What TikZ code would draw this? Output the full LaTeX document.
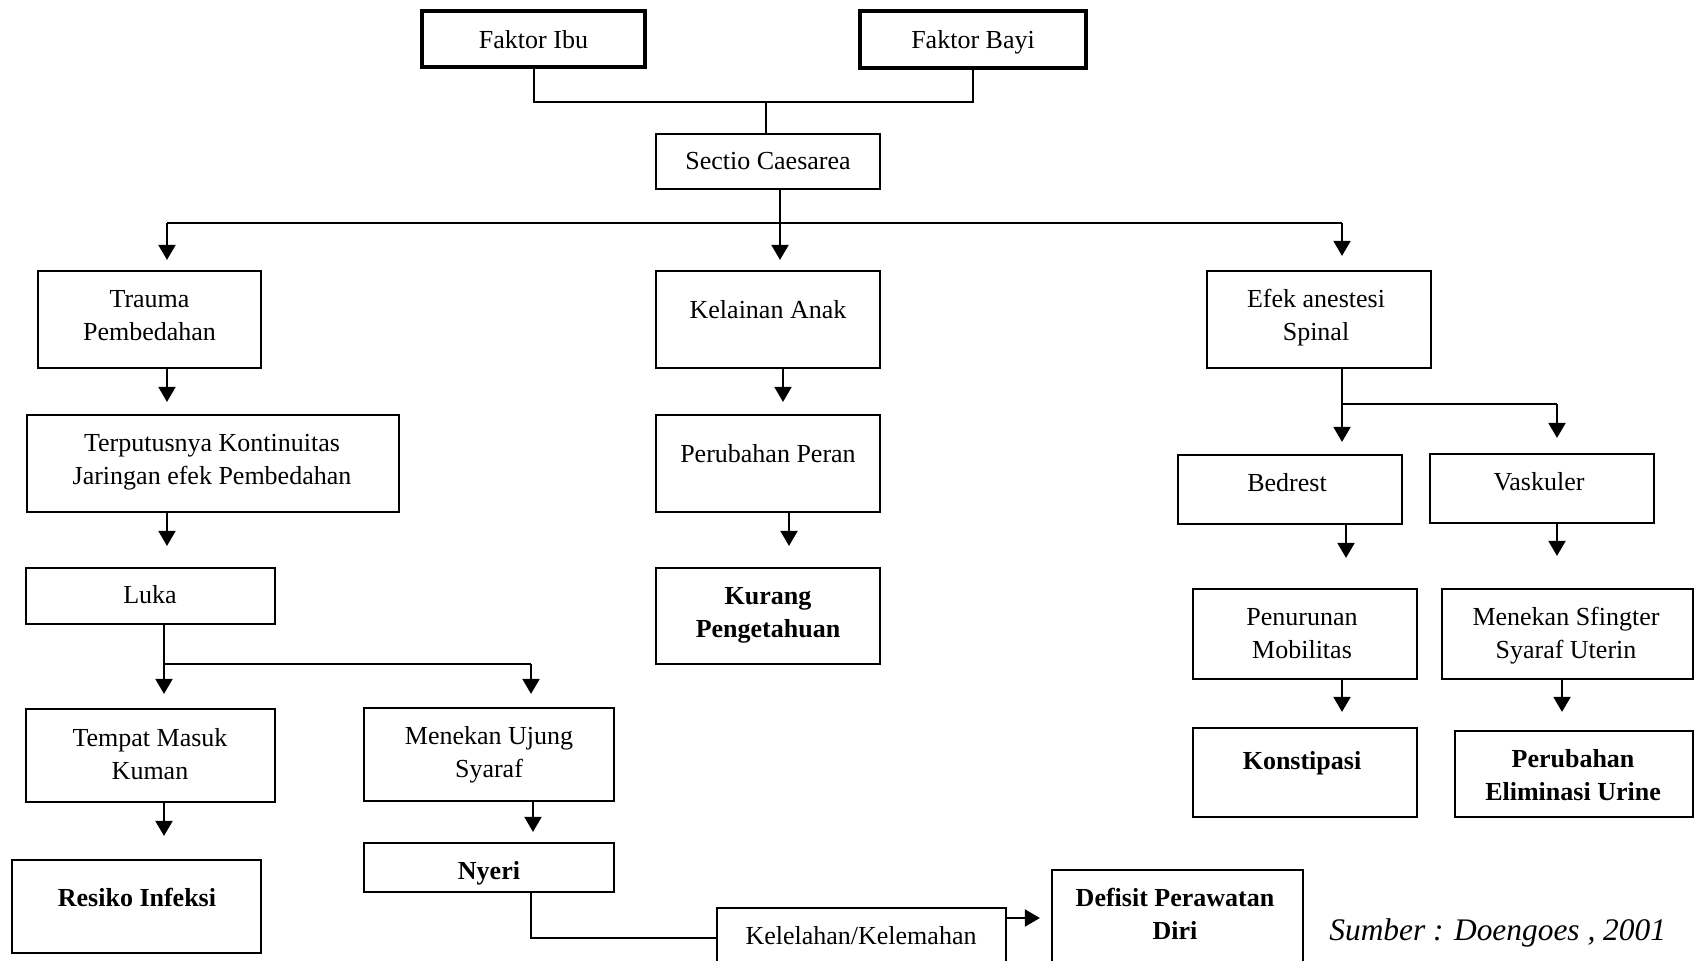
\documentclass[tikz,border=0pt]{standalone}
\usepackage{fontspec}
\setmainfont{Liberation Serif}
\usetikzlibrary{arrows.meta}
\begin{document}
\begin{tikzpicture}[x=0.5pt,y=-0.5pt,
  box/.style={draw, line width=1.1pt, inner sep=0pt},
  thickbox/.style={draw, line width=2pt, inner sep=0pt},
  txt/.style={align=center, inner sep=0pt, font=\fontsize{13}{16.5}\selectfont},
  btxt/.style={align=center, inner sep=0pt, font=\fontsize{13}{16.5}\selectfont\bfseries},
  ln/.style={line width=1pt},
  arr/.style={line width=1pt, -{Triangle[length=7.5pt,width=8.5pt]}}]
\useasboundingbox (0,0) rectangle (1695,960);
\clip (0,0) rectangle (1695,960);
% boxes
\node[thickbox, minimum width=111.5pt, minimum height=28pt] (ibu) at (533.5,39) {};
\node[thickbox, minimum width=113pt, minimum height=28.5pt] (bayi) at (973,39) {};
\node[box, minimum width=112pt, minimum height=27.5pt] (sec) at (768,161.5) {};
\node[box, minimum width=111.5pt, minimum height=48.5pt] (tra) at (149.5,319.5) {};
\node[box, minimum width=112pt, minimum height=48.5pt] (kel) at (768,319.5) {};
\node[box, minimum width=112pt, minimum height=48.5pt] (efe) at (1319,319.5) {};
\node[box, minimum width=186pt, minimum height=48.5pt] (ter) at (213,463.5) {};
\node[box, minimum width=112pt, minimum height=48.5pt] (per) at (768,463.5) {};
\node[box, minimum width=112pt, minimum height=34.5pt] (bed) at (1290,489.5) {};
\node[box, minimum width=112pt, minimum height=34.5pt] (vas) at (1542,488.5) {};
\node[box, minimum width=124.5pt, minimum height=28pt] (luk) at (150.5,596) {};
\node[box, minimum width=112pt, minimum height=48pt] (kur) at (768,616) {};
\node[box, minimum width=112pt, minimum height=45pt] (pen) at (1305,634) {};
\node[box, minimum width=125.5pt, minimum height=45pt] (sfi) at (1567.5,634) {};
\node[box, minimum width=124.5pt, minimum height=46.5pt] (tem) at (150.5,755.5) {};
\node[box, minimum width=125pt, minimum height=46.5pt] (uju) at (489,754.5) {};
\node[box, minimum width=112pt, minimum height=44.5pt] (kon) at (1305,772.5) {};
\node[box, minimum width=119pt, minimum height=43pt] (eli) at (1574,774) {};
\node[box, minimum width=124.5pt, minimum height=46.5pt] (res) at (136.5,906.5) {};
\node[box, minimum width=125pt, minimum height=24.5pt] (nye) at (489,867.5) {};
\node[box, minimum width=125.5pt, minimum height=60pt] (def) at (1177.5,930) {};
\node[box, minimum width=144.5pt, minimum height=41pt] (kll) at (861.5,949) {};
% texts
\node[txt] (tibu) at (533.5,40) {Faktor Ibu};
\node[txt] (tbayi) at (973,42) {Faktor Bayi};
\node[txt] (tsec) at (768,161) {Sectio Caesarea};
\node[txt] (ttra) at (149.5,316) {Trauma\\Pembedahan};
\node[txt] (tkel) at (768,310) {Kelainan Anak};
\node[txt] (tefe) at (1316,318) {Efek anestesi\\Spinal};
\node[txt] (tter) at (212,462) {Terputusnya Kontinuitas\\Jaringan efek Pembedahan};
\node[txt] (tper) at (768,454) {Perubahan Peran};
\node[txt] (tbed) at (1287,483) {Bedrest};
\node[txt] (tvas) at (1539,482) {Vaskuler};
\node[txt] (tluk) at (150,595) {Luka};
\node[btxt] (tkur) at (768,615) {Kurang\\Pengetahuan};
\node[txt] (tpen) at (1302,634) {Penurunan\\Mobilitas};
\node[txt] (tsfi) at (1566,636) {Menekan Sfingter\\Syaraf Uterin};
\node[txt] (ttem) at (150,754) {Tempat Masuk\\Kuman};
\node[txt] (tuju) at (489,755) {Menekan Ujung\\Syaraf};
\node[btxt] (tkon) at (1302,763) {Konstipasi};
\node[btxt] (teli) at (1573,775) {Perubahan\\Eliminasi Urine};
\node[btxt] (tres) at (137,897) {Resiko Infeksi};
\node[btxt] (tnye) at (489,873) {Nyeri};
\node[btxt] (tdef) at (1175,914) {Defisit Perawatan\\Diri};
\node[txt] (tkll) at (861,936) {Kelelahan/Kelemahan};
\node[inner sep=0pt, anchor=base west, font=\fontsize{15.7}{19}\selectfont\itshape] (src) at (1329,940) {Sumber : Doengoes , 2001};
% helper coordinates
\coordinate (j1) at (766,102);
\coordinate (j2) at (780,223);
\coordinate (jL) at (167,223);
\coordinate (jR) at (1342,223);
\coordinate (j3) at (1342,404);
\coordinate (j4) at (1557,404);
\coordinate (j5) at (164,664);
\coordinate (j6) at (531,664);
\coordinate (j7) at (531,938);
\coordinate (j8) at (0,918);
\coordinate (xb) at (783,0);
\coordinate (xc) at (789,0);
\coordinate (xd) at (1346,0);
\coordinate (xe) at (1562,0);
\coordinate (xf) at (533,0);
% connectors
\draw[ln] (ibu.south) -- (ibu.south |- j1) -- (bayi.south |- j1) -- (bayi.south);
\draw[ln] (j1) -- (j1 |- sec.north);
\draw[ln] (j2 |- sec.south) -- (j2);
\draw[ln] (jL) -- (jR);
\draw[arr, shorten >=5pt] (jL) -- (jL |- tra.north);
\draw[arr, shorten >=5pt] (j2) -- (j2 |- kel.north);
\draw[arr, shorten >=7pt] (jR) -- (jR |- efe.north);
\draw[arr, shorten >=6pt] (jL |- tra.south) -- (jL |- ter.north);
\draw[arr, shorten >=10.5pt] (jL |- ter.south) -- (jL |- luk.north);
\draw[arr, shorten >=6pt] (xb |- kel.south) -- (xb |- per.north);
\draw[arr, shorten >=10.5pt] (xc |- per.south) -- (xc |- kur.north);
\draw[ln] (jR |- efe.south) -- (j3) -- (j4);
\draw[arr, shorten >=6pt] (j3) -- (j3 |- bed.north);
\draw[arr, shorten >=7.5pt] (j4) -- (j4 |- vas.north);
\draw[arr, shorten >=15pt] (xd |- bed.south) -- (xd |- pen.north);
\draw[arr, shorten >=16pt] (j4 |- vas.south) -- (j4 |- sfi.north);
\draw[arr, shorten >=7.5pt] (jR |- pen.south) -- (jR |- kon.north);
\draw[arr, shorten >=9pt] (xe |- sfi.south) -- (xe |- eli.north);
\draw[ln] (j5 |- luk.south) -- (j5) -- (j6);
\draw[arr, shorten >=7pt] (j5) -- (j5 |- tem.north);
\draw[arr, shorten >=6.5pt] (j6) -- (j6 |- uju.north);
\draw[arr, shorten >=11.5pt] (j5 |- tem.south) -- (j5 |- res.north);
\draw[arr, shorten >=5pt] (xf |- uju.south) -- (xf |- nye.north);
\draw[ln] (j6 |- nye.south) -- (j7) -- (j7 -| kll.west);
\draw[arr, shorten >=5.5pt] (j8 -| kll.east) -- (j8 -| def.west);
\end{tikzpicture}
\end{document}
